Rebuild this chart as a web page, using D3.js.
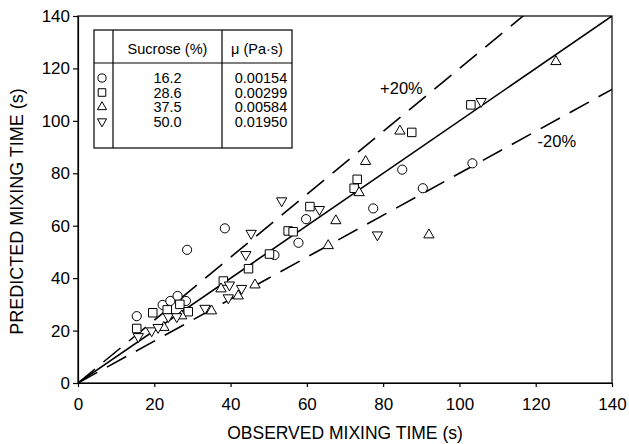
<!DOCTYPE html>
<html>
<head>
<meta charset="utf-8">
<script src="https://cdn.jsdelivr.net/npm/d3@7/dist/d3.min.js"></script>
<style>
  body { margin: 0; background: #fff; }
  svg { font-family: "Liberation Sans", Arial, sans-serif; }
  .axis path, .axis line { stroke: #000; stroke-width: 1.2; }
  .axis text { font-size: 17px; fill: #000; }
</style>
</head>
<body>
<svg width="629" height="444"></svg>
<script>
// observed vs predicted mixing time (s), one array per sucrose solution
var sucrose162 = [[15.4, 25.5], [22.2, 29.8], [24.2, 31.3], [26.1, 33.2], [28.3, 31.3], [28.6, 50.8],
    [38.5, 59], [51.5, 48.8], [57.8, 53.5], [59.8, 62.5], [77.4, 66.6], [85, 81.4], [90.4, 74.3], [103.4, 83.8]];
var sucrose286 = [[15.4, 20.8], [19.6, 26.8], [23.4, 27.9], [26.7, 30], [28.9, 27.2], [38.1, 38.9],
    [44.7, 43.6], [50.2, 49.2], [55.1, 58], [56.4, 57.7], [60.8, 67.3], [72.4, 74.3], [73.2, 77.7],
    [87.5, 95.6], [103, 106.1]];
var sucrose375 = [[22.5, 21.2], [27.2, 25.6], [35, 27.5], [37.5, 35.9], [42, 33.2], [46.4, 37.4],
    [65.6, 52.4], [67.6, 61.9], [73.7, 72.6], [75.4, 84.5], [84.4, 96.1], [92, 56.5], [125.3, 122.6]];
var sucrose500 = [[15.8, 17.7], [19.3, 19.9], [21, 21.2], [23.7, 25.3], [25.9, 25.3], [33.3, 28.5],
    [39.4, 32.5], [39.7, 37.4], [42.9, 36.1], [44, 49], [45.4, 57.1], [53.4, 69.5], [63.3, 66.2],
    [78.5, 56.5], [105.7, 107.4]];

var sucroseLabels = ["16.2", "28.6", "37.5", "50.0"];
var viscosityLabels = ["0.00154", "0.00299", "0.00584", "0.01950"];
var ticks = [0, 20, 40, 60, 80, 100, 120, 140];
var ratios = [1, 1.2, 0.8]; // parity line and +/-20% bands

var svg = d3.select("svg"),
    margin = {top: 16, right: 17, bottom: 61, left: 78},
    width = +svg.attr("width") - margin.left - margin.right,
    height = +svg.attr("height") - margin.top - margin.bottom;

var x = d3.scaleLinear().domain([0, 140]).range([0, width]),
    y = d3.scaleLinear().domain([0, 140]).range([height, 0]);

var g = svg.append("g")
    .attr("transform", "translate(" + margin.left + "," + margin.top + ")");

svg.append("defs").append("clipPath")
    .attr("id", "clip")
    .append("rect")
    .attr("width", width)
    .attr("height", height);

// frame
g.append("rect")
    .attr("width", width)
    .attr("height", height)
    .attr("fill", "none")
    .attr("stroke", "#000")
    .attr("stroke-width", 1.2);

g.append("g")
    .attr("class", "axis")
    .attr("transform", "translate(0," + height + ")")
    .call(d3.axisBottom(x).tickValues(ticks).tickSize(4).tickPadding(11).tickSizeOuter(0));

g.append("g")
    .attr("class", "axis")
    .call(d3.axisLeft(y).tickValues(ticks).tickSize(5).tickPadding(3).tickSizeOuter(0));

svg.append("text")
    .attr("x", margin.left + width / 2)
    .attr("y", 439)
    .attr("text-anchor", "middle")
    .attr("font-size", "17.5px")
    .text("OBSERVED MIXING TIME (s)");

svg.append("text")
    .attr("transform", "translate(23," + (margin.top + height / 2 + 12) + ") rotate(-90)")
    .attr("text-anchor", "middle")
    .attr("font-size", "18px")
    .text("PREDICTED MIXING TIME (s)");

// reference lines
var line = d3.line()
    .x(function(d) { return x(d[0]); })
    .y(function(d) { return y(d[1]); });

g.append("g")
    .attr("clip-path", "url(#clip)")
    .selectAll("path")
    .data(ratios)
    .enter().append("path")
    .attr("d", function(r) { return line([[0, 0], [140, 140 * r]]); })
    .attr("fill", "none")
    .attr("stroke", "#000")
    .attr("stroke-width", 1.6)
    .attr("stroke-dasharray", function(r) { return r == 1 ? null : "22,11"; });

g.append("text").attr("x", x(79.2)).attr("y", y(110.3)).attr("font-size", "16.5px").text("+20%");
g.append("text").attr("x", x(120.5)).attr("y", y(90)).attr("font-size", "16.5px").text("-20%");

// markers
var series = [
    {data: sucrose162, shape: d3.symbolCircle, size: 66, rot: 0},
    {data: sucrose286, shape: d3.symbolSquare, size: 72, rot: 0},
    {data: sucrose375, shape: d3.symbolTriangle, size: 46, rot: 0},
    {data: sucrose500, shape: d3.symbolTriangle, size: 46, rot: 180}
];

series.forEach(function(s) {
    g.append("g").selectAll("path")
        .data(s.data)
        .enter().append("path")
        .attr("d", d3.symbol().type(s.shape).size(s.size))
        .attr("transform", function(d) {
            return "translate(" + x(d[0]) + "," + y(d[1]) + ") rotate(" + s.rot + ")";
        })
        .attr("fill", "#fff")
        .attr("stroke", "#000")
        .attr("stroke-width", 1);
});

// legend table
var tb = svg.append("g").attr("transform", "translate(94,30)");
var tw = 198, th = 118, c1 = 19, c2 = 128, hy = 33, rowY = [48, 62.5, 77, 91.5];

tb.append("rect").attr("width", tw).attr("height", th)
    .attr("fill", "#fff").attr("stroke", "#000").attr("stroke-width", 1.2);
tb.append("line").attr("x1", c1).attr("x2", c1).attr("y1", 0).attr("y2", th).attr("stroke", "#000").attr("stroke-width", 1.2);
tb.append("line").attr("x1", c2).attr("x2", c2).attr("y1", 0).attr("y2", th).attr("stroke", "#000").attr("stroke-width", 1.2);
tb.append("line").attr("x1", 0).attr("x2", tw).attr("y1", hy).attr("y2", hy).attr("stroke", "#000").attr("stroke-width", 1.2);

tb.append("text").attr("x", (c1 + c2) / 2).attr("y", 24).attr("text-anchor", "middle")
    .attr("font-size", "14.5px").text("Sucrose (%)");
tb.append("text").attr("x", (c2 + tw) / 2).attr("y", 24).attr("text-anchor", "middle")
    .attr("font-size", "14.5px").text("\u03bc (Pa\u00b7s)");

series.forEach(function(s, i) {
    tb.append("path")
        .attr("d", d3.symbol().type(s.shape).size(s.size * 0.8))
        .attr("transform", "translate(8," + rowY[i] + ") rotate(" + s.rot + ")")
        .attr("fill", "#fff")
        .attr("stroke", "#000")
        .attr("stroke-width", 1);
    tb.append("text").attr("x", (c1 + c2) / 2).attr("y", rowY[i] + 5).attr("text-anchor", "middle")
        .attr("font-size", "14.5px").text(sucroseLabels[i]);
    tb.append("text").attr("x", (c2 + tw) / 2 + 4).attr("y", rowY[i] + 5).attr("text-anchor", "middle")
        .attr("font-size", "14.5px").text(viscosityLabels[i]);
});
</script>
</body>
</html>
